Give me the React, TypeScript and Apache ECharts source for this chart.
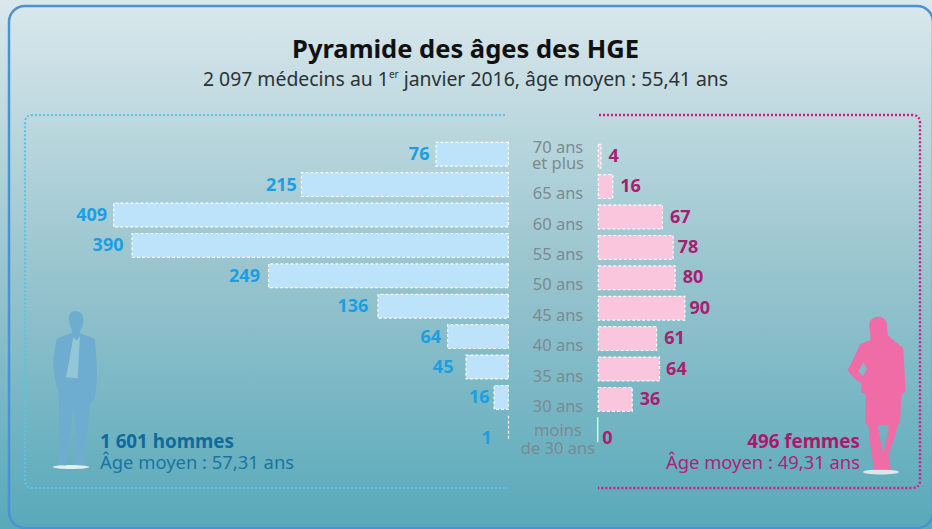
import React, { useEffect, useRef } from "react";
import * as echarts from "echarts";

const ageLabels = ["70 ans\net plus", "65 ans", "60 ans", "55 ans", "50 ans", "45 ans", "40 ans", "35 ans", "30 ans", "moins\nde 30 ans"];
const menValues = [76, 215, 409, 390, 249, 136, 64, 45, 16, 1];
const womenValues = [4, 16, 67, 78, 80, 90, 61, 64, 36, 0];

const titleText = "Pyramide des âges des HGE";
const subtitleText = "2 097 médecins au 1{sup|er} janvier 2016, âge moyen : 55,41 ans";
const menTotal = "1 601 hommes";
const menAge = "Âge moyen : 57,31 ans";
const womenTotal = "496 femmes";
const womenAge = "Âge moyen : 49,31 ans";

const FONT = '"Noto Sans", sans-serif';

const manPath = "M107 33 C92 33 85 45 87 60 C88 75 95 85 97 98 C80 105 62 108 50 118 C44 150 38 180 40 205 C42 235 50 255 55 272 L58 400 L55 495 L78 497 L92 400 L100 320 L108 400 L105 495 L130 497 L140 420 L150 310 C160 305 165 295 166 285 C172 250 172 200 168 160 L165 118 C150 108 130 105 118 98 C126 85 132 72 130 55 C128 42 120 33 107 33 Z";
const manShirt = "M100 110 L110 122 L120 108 L116 180 L113 235 L78 232 L90 170 Z";
const womanPath = "M128 35 C112 35 102 48 103 65 C104 80 108 92 106 105 L75 118 C65 145 50 172 38 195 C48 212 62 225 80 235 L78 262 L92 268 L90 355 L100 360 L106 420 L115 480 L115 495 L168 495 L160 450 L175 410 L190 358 L195 355 L200 270 L212 258 L205 130 L175 105 L160 92 C156 78 158 65 155 52 C150 40 140 35 128 35 Z M128 362 L162 362 L145 450 Z M85 172 L96 190 L84 214 L70 200 Z";

echarts.graphic.registerShape("manFigure", echarts.graphic.extendPath(manPath, {}));
echarts.graphic.registerShape("manShirtFigure", echarts.graphic.extendPath(manShirt, {}));
echarts.graphic.registerShape("womanFigure", echarts.graphic.extendPath(womanPath, {}));
echarts.graphic.registerShape("menFrame", echarts.graphic.extendPath("M505 115 L33 115 Q25 115 25 123 L25 480 Q25 488 33 488 L508 488", {}));
echarts.graphic.registerShape("womenFrame", echarts.graphic.extendPath("M599 115 L912 115 Q920 115 920 123 L920 480 Q920 488 912 488 L598 488", {}));

const dashed = (fill: string) => ({
  color: fill,
  borderColor: "rgba(255,255,255,0.95)",
  borderWidth: 1.2,
  borderType: [3, 2] as number[],
});

const menLabelShift = [0, 2, 0, -2, -2, -3, 0, -6, 2, -10];
const womenLabelShift = [0, 0, 0, -3, 0, -3, 0, -1, 0, -3];

const formatAge = (value: string, index: number) => {
  const lines = value.split("\n");
  if (index === 0) return `{a|${lines[0]}}\n{b|${lines[1]}}`;
  if (index === ageLabels.length - 1) return `{c|${lines[0]}}\n{d|${lines[1]}}`;
  return value;
};

export default function App() {
  const ref = useRef<HTMLDivElement>(null);
  useEffect(() => {
    const chart = echarts.init(ref.current!, undefined, { renderer: "svg" });
    const ageStyle = { fontFamily: FONT, fontSize: 16.5, color: "#7c8a90", align: "center" };
    chart.setOption({
      animation: false,
      backgroundColor: {
        type: "linear", x: 0, y: 0, x2: 0, y2: 1,
        colorStops: [
          { offset: 0, color: "#dae8ec" },
          { offset: 0.5, color: "#9ac5cf" },
          { offset: 1, color: "#58a9ba" },
        ],
      },
      title: {
        text: titleText,
        subtext: subtitleText,
        left: 460.5,
        top: 30,
        textAlign: "center",
        itemGap: 8,
        textStyle: { fontFamily: FONT, fontSize: 25.5, fontWeight: "bold", color: "#111111" },
        subtextStyle: {
          fontFamily: FONT, fontSize: 19.4, color: "#2c3236",
          rich: { sup: { fontFamily: FONT, fontSize: 10, color: "#2c3236", verticalAlign: "top", padding: [0, 0, 8, 0] } },
        },
      },
      grid: [
        { left: 25, width: 484, top: 139, height: 304 },
        { left: 597.7, width: 292.5, top: 141, height: 304 },
        { left: 557, width: 1, top: 147, height: 304 },
      ],
      xAxis: [
        { gridIndex: 0, type: "value", inverse: true, min: 0, max: 500, show: false },
        { gridIndex: 1, type: "value", min: 0, max: 300, show: false },
        { gridIndex: 2, type: "value", min: 0, max: 1, show: false },
      ],
      yAxis: [
        { gridIndex: 0, type: "category", inverse: true, data: ageLabels, show: false },
        { gridIndex: 1, type: "category", inverse: true, data: ageLabels, show: false },
        {
          gridIndex: 2,
          type: "category",
          inverse: true,
          data: ageLabels,
          axisLine: { show: false },
          axisTick: { show: false },
          axisLabel: {
            interval: 0,
            margin: -1,
            align: "center",
            fontFamily: FONT,
            fontSize: 16.5,
            color: "#7c8a90",
            formatter: formatAge,
            rich: {
              a: { ...ageStyle, lineHeight: 16 },
              b: { ...ageStyle, lineHeight: 32, padding: [0, 0, 16, 0] },
              c: { ...ageStyle, lineHeight: 24, padding: [6, 0, 0, 0] },
              d: { ...ageStyle, lineHeight: 18 },
            },
          },
        },
      ],
      series: [
        {
          type: "bar",
          name: "Hommes",
          xAxisIndex: 0,
          yAxisIndex: 0,
          barWidth: 25,
          itemStyle: dashed("#bde3fa"),
          data: menValues.map((value, i) => ({
            value,
            label: { offset: [menLabelShift[i], i === 9 ? 9 : -1] },
          })),
          label: {
            show: true,
            position: "left",
            distance: 6,
            fontFamily: FONT,
            fontSize: 18,
            fontWeight: "bold",
            color: "#1c9fe2",
          },
        },
        {
          type: "bar",
          name: "Femmes",
          xAxisIndex: 1,
          yAxisIndex: 1,
          barWidth: 25,
          itemStyle: dashed("#f9c6de"),
          data: womenValues.map((value, i) => ({
            value,
            label: { offset: [womenLabelShift[i], i === 9 ? 7 : -1.5] },
          })),
          label: {
            show: true,
            position: "right",
            distance: 7,
            fontFamily: FONT,
            fontSize: 18,
            fontWeight: "bold",
            color: "#a9206f",
          },
        },
      ],
      graphic: [
        { type: "rect", silent: true, shape: { x: 9, y: 6, width: 924, height: 522, r: 16 }, style: { fill: "none", stroke: "#4b92d2", lineWidth: 2.5 } },
        { type: "menFrame", silent: true, style: { fill: "none", stroke: "#58c4ec", lineWidth: 2.2, lineDash: [2, 2] } },
        { type: "womenFrame", silent: true, style: { fill: "none", stroke: "#e0158a", lineWidth: 2.4, lineDash: [2, 2] } },
        { type: "ellipse", silent: true, shape: { cx: 71, cy: 467, rx: 18, ry: 2 }, style: { fill: "#e6eeee" } },
        { type: "manFigure", silent: true, x: 40, y: 300, scaleX: 1 / 3, scaleY: 1 / 3, style: { fill: "#6eadd0" } },
        { type: "manShirtFigure", silent: true, x: 40, y: 300, scaleX: 1 / 3, scaleY: 1 / 3, style: { fill: "#93c6d6" } },
        { type: "ellipse", silent: true, shape: { cx: 881, cy: 472, rx: 18, ry: 2.5 }, style: { fill: "#dbe8e8" } },
        { type: "womanFigure", silent: true, x: 835, y: 305, scaleX: 1 / 3, scaleY: 1 / 3, style: { fill: "#ef6ca7" } },
        { type: "text", silent: true, x: 100, y: 441, style: { text: menTotal, fontFamily: FONT, fontSize: 18.8, fontWeight: "bold", fill: "#116a9c", verticalAlign: "middle" } },
        { type: "text", silent: true, x: 100, y: 461, style: { text: menAge, fontFamily: FONT, fontSize: 18.4, fill: "#1a74a2", verticalAlign: "middle" } },
        { type: "text", silent: true, x: 860, y: 441, style: { text: womenTotal, align: "right", fontFamily: FONT, fontSize: 18.8, fontWeight: "bold", fill: "#b0166c", verticalAlign: "middle" } },
        { type: "text", silent: true, x: 860, y: 461, style: { text: womenAge, align: "right", fontFamily: FONT, fontSize: 18.4, fill: "#b0227a", verticalAlign: "middle" } },
      ],
    });
    return () => chart.dispose();
  }, []);
  return <div ref={ref} style={{ position: "fixed", left: 0, top: 0, width: 932, height: 529 }} />;
}
